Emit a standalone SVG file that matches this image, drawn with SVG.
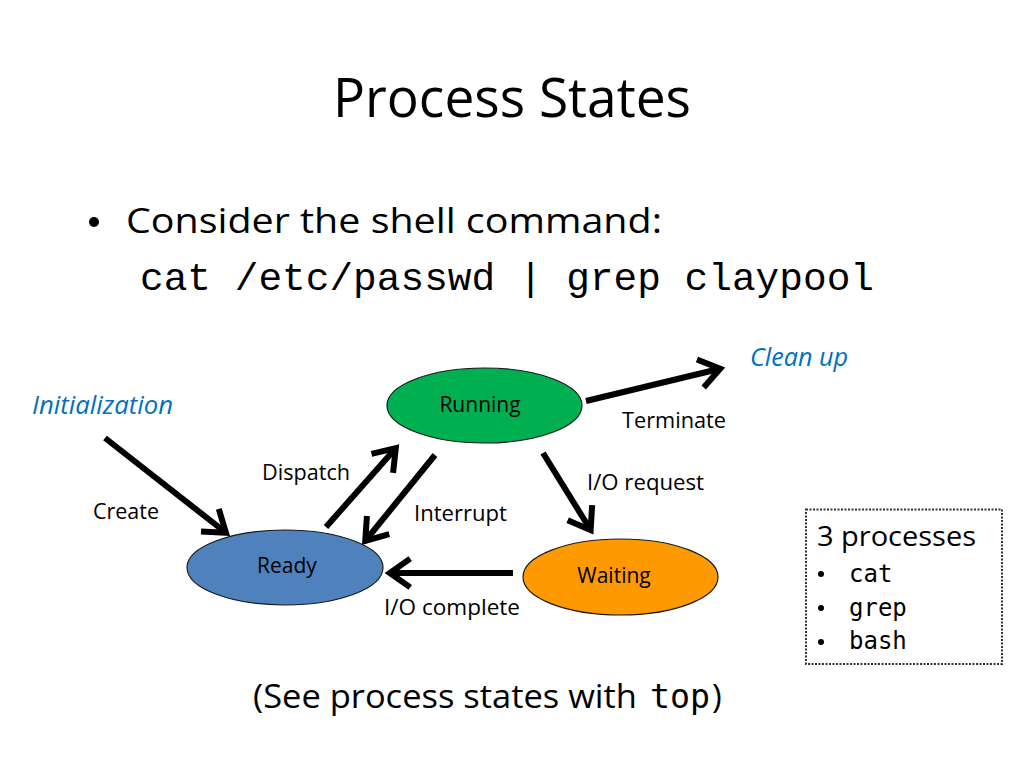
<svg xmlns="http://www.w3.org/2000/svg" width="1024" height="768" viewBox="0 0 1024 768">
<style>
.t{font-family:"Open Sans","Liberation Sans",sans-serif;fill:#000}
.m{font-family:"Liberation Mono","Courier New",monospace;fill:#000}
.cm{font-family:"DejaVu Sans Mono","Liberation Mono",monospace;fill:#000}
.lbl{font-family:"Open Sans","Liberation Sans",sans-serif;font-size:22px;fill:#000}
.blue{font-family:"Open Sans","Liberation Sans",sans-serif;font-style:italic;font-size:25px;fill:#0070c0}
.node{stroke:#1a1a1a;stroke-width:1.2}
.arr{stroke:#000;stroke-width:6;fill:none;marker-end:url(#ah)}
</style>
<defs>
<marker id="ah" markerWidth="6" markerHeight="6" refX="4.2" refY="3" orient="auto" markerUnits="strokeWidth" viewBox="0 0 6 6">
<path d="M1,0.6 L4.4,3 L1,5.4" fill="none" stroke="#000" stroke-width="1"/>
</marker>
</defs>
<rect width="1024" height="768" fill="#fff"/>
<text class="t" x="333" y="117" font-size="54" textLength="358" lengthAdjust="spacingAndGlyphs">Process States</text>
<circle cx="94" cy="222" r="5" fill="#000"/>
<text class="t" x="126" y="233" font-size="35" textLength="536" lengthAdjust="spacingAndGlyphs">Consider the shell command:</text>
<text class="m" x="140" y="290" font-size="39.5" textLength="734" lengthAdjust="spacingAndGlyphs">cat /etc/passwd | grep claypool</text>

<g id="connectors">
<line class="arr" x1="105" y1="438" x2="225" y2="532"/>
<line class="arr" x1="326" y1="527" x2="395" y2="449"/>
<line class="arr" x1="435" y1="455" x2="366" y2="540"/>
<line class="arr" x1="543" y1="453" x2="590" y2="529"/>
<line class="arr" x1="513" y1="573" x2="391" y2="573"/>
<line class="arr" x1="586" y1="401" x2="719" y2="369"/>
</g>

<g id="running">
<ellipse class="node" cx="484.5" cy="405.5" rx="97.5" ry="37.5" fill="#00b050"/>
<text class="t" x="480" y="412" font-size="21" text-anchor="middle">Running</text>
</g>
<g id="ready">
<ellipse class="node" cx="285" cy="567.5" rx="98" ry="37.5" fill="#4f81bd"/>
<text class="t" x="287" y="573" font-size="21" text-anchor="middle">Ready</text>
</g>
<g id="waiting">
<ellipse class="node" cx="620.5" cy="577" rx="97.5" ry="38" fill="#ff9900"/>
<text class="t" x="614" y="583" font-size="21" text-anchor="middle">Waiting</text>
</g>

<g id="labels">
<text class="blue" x="32" y="414" textLength="141" lengthAdjust="spacingAndGlyphs">Initialization</text>
<text class="blue" x="750" y="366" textLength="98" lengthAdjust="spacingAndGlyphs">Clean up</text>
<text class="lbl" x="622" y="428" textLength="104" lengthAdjust="spacingAndGlyphs">Terminate</text>
<text class="lbl" x="262" y="480" textLength="88" lengthAdjust="spacingAndGlyphs">Dispatch</text>
<text class="lbl" x="93" y="519" textLength="66" lengthAdjust="spacingAndGlyphs">Create</text>
<text class="lbl" x="414" y="521" textLength="93" lengthAdjust="spacingAndGlyphs">Interrupt</text>
<text class="lbl" x="587" y="490" textLength="117" lengthAdjust="spacingAndGlyphs">I/O request</text>
<text class="lbl" x="384" y="615" textLength="136" lengthAdjust="spacingAndGlyphs">I/O complete</text>
</g>

<g id="processes">
<rect x="806" y="509.5" width="196" height="154.5" fill="none" stroke="#333" stroke-width="2" stroke-dasharray="2,1.5"/>
<text class="t" x="817" y="546" font-size="28" textLength="159" lengthAdjust="spacingAndGlyphs">3 processes</text>
<circle cx="821" cy="574" r="3" fill="#000"/>
<circle cx="821" cy="608" r="3" fill="#000"/>
<circle cx="821" cy="642" r="3" fill="#000"/>
<text class="cm" x="849" y="582" font-size="24">cat</text>
<text class="cm" x="849" y="616" font-size="24">grep</text>
<text class="cm" x="849" y="649" font-size="24">bash</text>
</g>

<text class="t" x="253" y="708" font-size="33" textLength="384" lengthAdjust="spacingAndGlyphs">(See process states with</text>
<text class="cm" x="650" y="708" font-size="34" textLength="60" lengthAdjust="spacingAndGlyphs">top</text>
<text class="t" x="712" y="708" font-size="33">)</text>
</svg>
